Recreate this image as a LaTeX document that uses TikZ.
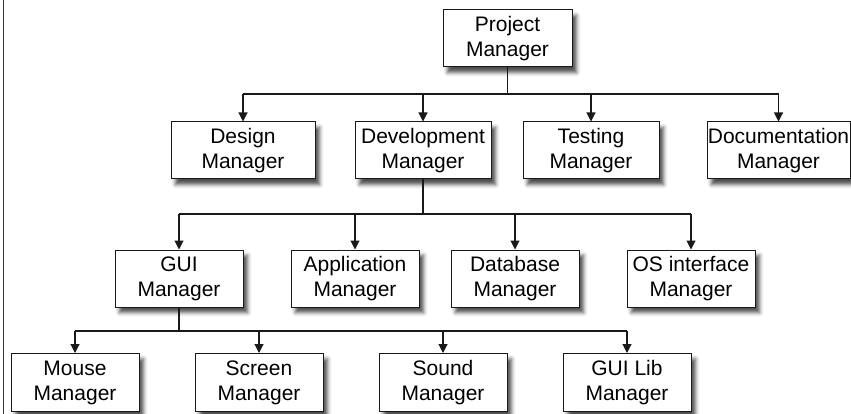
\documentclass[tikz,border=0pt]{standalone}
\usepackage{fontspec}
\setmainfont{Liberation Sans}
\usetikzlibrary{arrows.meta,shadows.blur}

\tikzset{
  mgr/.style={draw=black!90, line width=1pt, fill=white, rectangle,
    minimum width=128pt, minimum height=57pt, inner sep=0pt, align=center,
    font=\fontsize{21}{25}\selectfont,
    blur shadow={shadow xshift=4.5pt, shadow yshift=-5.5pt,
      shadow blur radius=4pt, shadow opacity=70}},
  link/.style={draw=black!90, line width=1.1pt},
  arr/.style={link, -{Triangle[width=9pt,length=9pt]}},
}

\begin{document}
\begin{tikzpicture}[x=1pt, y=-1pt]
  \useasboundingbox (0,0) rectangle (851,414);
  % frame line on the left edge
  \draw[line width=1pt, black!80] (3,0) -- (3,414);

  % top level
  \node[mgr, minimum width=129pt] (pm) at (507.5,38.5) {Project\\Manager};

  % second level
  \node[mgr, minimum width=144pt] (design) at (243,150.5) {Design\\Manager};
  \node[mgr, minimum width=136pt] (dev)    at (423,150.5) {Development\\Manager};
  \node[mgr, minimum width=136pt] (test)   at (591,150.5) {Testing\\Manager};
  \node[mgr, minimum width=143pt] (doc)    at (778.5,150.5) {Documentation\\Manager};

  % third level
  \node[mgr] (gui) at (179,278.5) {GUI\\Manager};
  \node[mgr] (app) at (355,278.5) {Application\\Manager};
  \node[mgr] (db)  at (515,278.5) {Database\\Manager};
  \node[mgr] (os)  at (691,278.5) {OS interface\\Manager};

  % fourth level
  \node[mgr, minimum height=58pt] (mouse)  at (75,382.5)  {Mouse\\Manager};
  \node[mgr, minimum height=58pt] (screen) at (259,382.5) {Screen\\Manager};
  \node[mgr, minimum height=58pt] (sound)  at (443,382.5) {Sound\\Manager};
  \node[mgr, minimum height=58pt] (guilib) at (627,382.5) {GUI Lib\\Manager};

  % bus levels
  \coordinate (bus1) at (0,94);
  \coordinate (bus2) at (0,214);
  \coordinate (bus3) at (0,331);

  % project manager to second level
  \draw[link] (pm.south) -- (pm.south |- bus1);
  \draw[link] (design.north |- bus1) -- (doc.north |- bus1);
  \foreach \n in {design,dev,test,doc}
    \draw[arr] (\n.north |- bus1) -- (\n.north);

  % development manager to third level
  \draw[link] (dev.south) -- (dev.south |- bus2);
  \draw[link] (gui.north |- bus2) -- (os.north |- bus2);
  \foreach \n in {gui,app,db,os}
    \draw[arr] (\n.north |- bus2) -- (\n.north);

  % GUI manager to fourth level
  \draw[link] (gui.south) -- (gui.south |- bus3);
  \draw[link] (mouse.north |- bus3) -- (guilib.north |- bus3);
  \foreach \n in {mouse,screen,sound,guilib}
    \draw[arr] (\n.north |- bus3) -- (\n.north);
\end{tikzpicture}
\end{document}
